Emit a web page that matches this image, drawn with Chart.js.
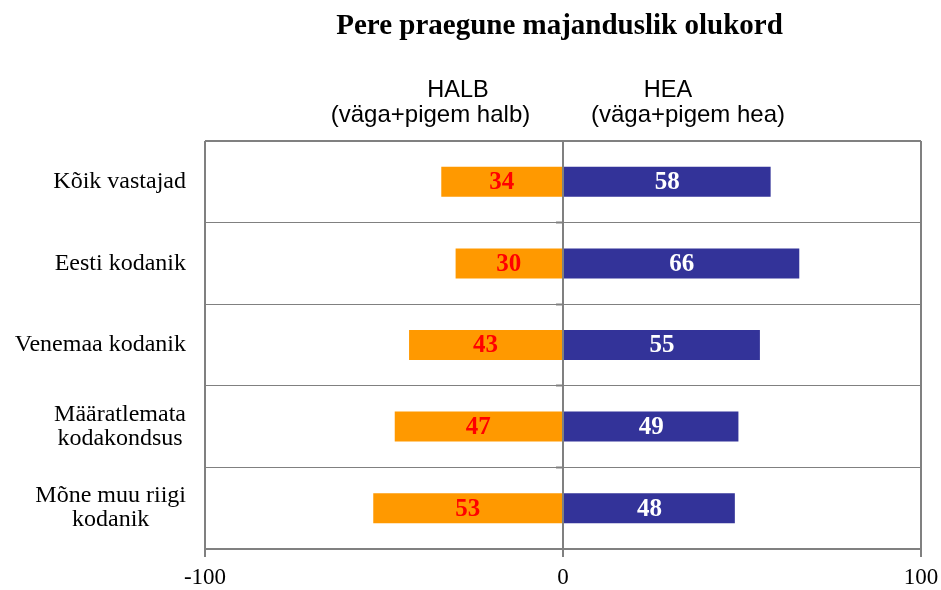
<!DOCTYPE html>
<html>
<head>
<meta charset="utf-8">
<script src="https://cdn.jsdelivr.net/npm/chart.js@4"></script>
<style>
  html, body { margin: 0; padding: 0; background: #ffffff; }
  #wrap { width: 941px; height: 590px; }
</style>
</head>
<body>
<div id="wrap"><canvas id="c" width="941" height="590"></canvas></div>
<script>
const chartTitle = 'Pere praegune majanduslik olukord';
const categories = [
  ['Kõik vastajad'],
  ['Eesti kodanik'],
  ['Venemaa kodanik'],
  ['Määratlemata', 'kodakondsus'],
  ['Mõne muu riigi', 'kodanik']
];
const halbValues = [34, 30, 43, 47, 53];
const heaValues = [58, 66, 55, 49, 48];
const halbHeader = ['HALB', '(väga+pigem halb)'];
const heaHeader = ['HEA', '(väga+pigem hea)'];
const xTicks = [-100, 0, 100];

const SERIF = "'Liberation Serif', 'Times New Roman', serif";
const SANS = "'Liberation Sans', Arial, sans-serif";
const GRID = '#808080';

const labelPlugin = {
  id: 'customText',
  afterDatasetsDraw(chart) {
    const ctx = chart.ctx;
    ctx.save();
    ctx.font = 'bold 25px ' + SERIF;
    ctx.textAlign = 'center';
    ctx.textBaseline = 'middle';
    chart.data.datasets.forEach((ds, di) => {
      const meta = chart.getDatasetMeta(di);
      meta.data.forEach((bar, i) => {
        const cx = (bar.x + bar.base) / 2;
        ctx.fillStyle = ds.labelColor;
        ctx.fillText(String(Math.abs(ds.data[i])), cx, bar.y + 1);
      });
    });
    ctx.restore();
  },
  afterDraw(chart) {
    const ctx = chart.ctx;
    const yScale = chart.scales.y;
    ctx.save();
    // title
    ctx.fillStyle = '#000';
    ctx.font = 'bold 29px ' + SERIF;
    ctx.textAlign = 'center';
    ctx.textBaseline = 'alphabetic';
    ctx.fillText(chartTitle, 559.5, 34);
    // headers
    ctx.font = '23.5px ' + SANS;
    ctx.fillText(halbHeader[0], 458, 97);
    ctx.fillText(heaHeader[0], 668, 97);
    ctx.font = '24px ' + SANS;
    ctx.fillText(halbHeader[1], 430.5, 122);
    ctx.fillText(heaHeader[1], 688, 122);
    // category labels
    ctx.font = '24px ' + SERIF;
    ctx.textBaseline = 'middle';
    const rightEdge = 186;
    const lineH = 24;
    categories.forEach((lines, i) => {
      const cy = yScale.getPixelForValue(i);
      let maxW = 0;
      lines.forEach(l => { maxW = Math.max(maxW, ctx.measureText(l).width); });
      const cx = rightEdge - maxW / 2;
      const startY = cy - (lines.length - 1) * lineH / 2;
      lines.forEach((l, k) => ctx.fillText(l, cx, startY + k * lineH));
    });
    ctx.restore();
  }
};

new Chart(document.getElementById('c'), {
  type: 'bar',
  data: {
    labels: categories.map(c => c.join(' ')),
    datasets: [
      {
        label: halbHeader[0],
        data: halbValues.map(v => -v),
        backgroundColor: '#FF9900',
        labelColor: '#FF0000',
        borderWidth: 0,
        categoryPercentage: 1,
        barPercentage: 0.368
      },
      {
        label: heaHeader[0],
        data: heaValues,
        backgroundColor: '#333399',
        labelColor: '#FFFFFF',
        borderWidth: 0,
        categoryPercentage: 1,
        barPercentage: 0.368
      }
    ]
  },
  options: {
    indexAxis: 'y',
    responsive: false,
    animation: false,
    events: [],
    layout: { padding: { left: 205, right: 20, top: 141, bottom: 0 } },
    plugins: {
      legend: { display: false },
      title: { display: false },
      tooltip: { enabled: false }
    },
    scales: {
      x: {
        type: 'linear',
        min: -100,
        max: 100,
        stacked: true,
        afterBuildTicks: (scale) => { scale.ticks = xTicks.map(v => ({ value: v })); },
        afterFit: (scale) => { scale.height = 41; scale.paddingLeft = 0; scale.paddingRight = 0; },
        ticks: {
          font: { family: SERIF, size: 23 },
          color: '#000',
          padding: 7,
          maxRotation: 0,
          autoSkip: false
        },
        grid: {
          color: GRID,
          lineWidth: 2,
          drawTicks: true,
          tickLength: 8,
          tickColor: GRID,
          tickWidth: 2
        },
        border: { display: true, color: GRID, width: 2 }
      },
      y: {
        stacked: true,
        position: { x: 0 },
        ticks: { display: false },
        grid: {
          offset: true,
          color: GRID,
          lineWidth: (c) => (c.type !== 'tick' || c.index === 0) ? 2 : 1,
          drawTicks: true,
          tickLength: 6,
          tickColor: GRID,
          tickWidth: 2
        },
        border: { display: true, color: GRID, width: 2 }
      }
    }
  },
  plugins: [labelPlugin]
});
</script>
</body>
</html>
